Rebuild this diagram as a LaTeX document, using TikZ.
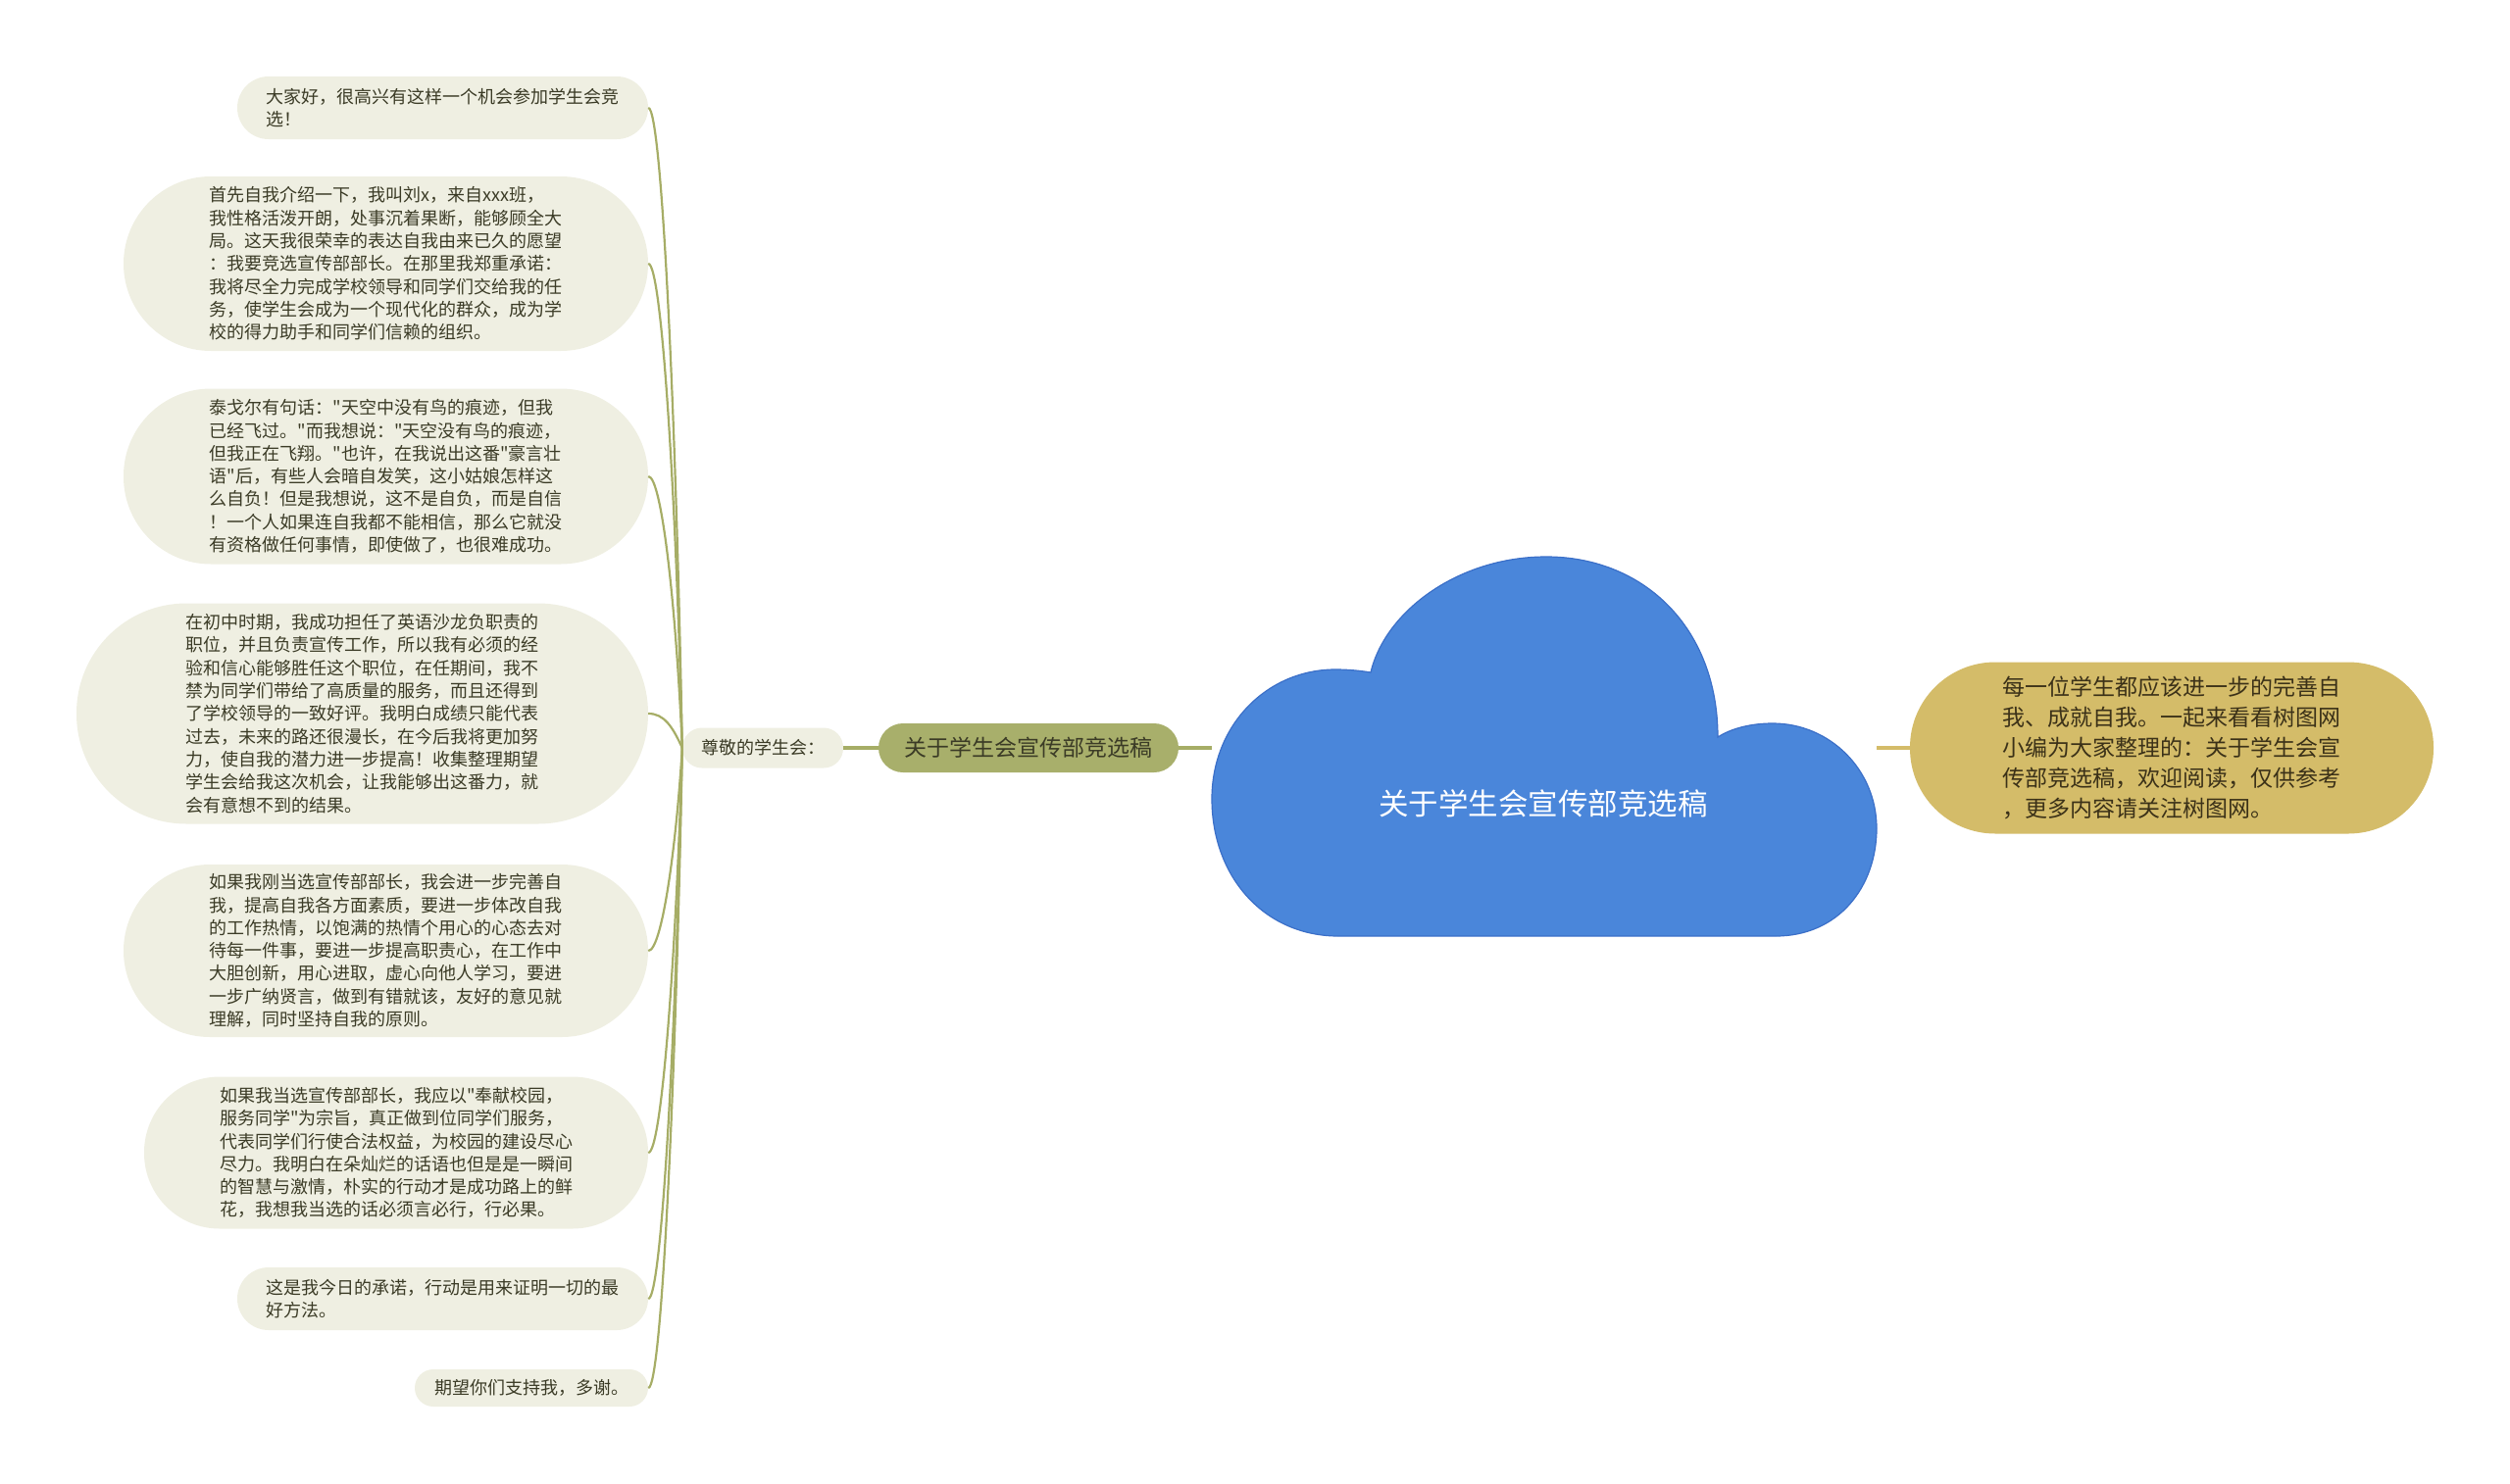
\documentclass[tikz,border=0pt]{standalone}
\usepackage{fontspec}
\setmainfont{Noto Sans CJK SC}[Ligatures=TeXOff]
\definecolor{leaffill}{HTML}{EFEFE2}
\definecolor{leaftext}{HTML}{3B3B26}
\definecolor{branchgreen}{HTML}{A6AD66}
\definecolor{titlefill}{HTML}{A8AF6B}
\definecolor{goldfill}{HTML}{D4BC69}
\definecolor{goldtext}{HTML}{3B3118}
\definecolor{cloudfill}{HTML}{4A86DA}
\definecolor{cloudline}{HTML}{3B6FC8}

\begin{document}
\begin{tikzpicture}[x=1pt,y=1pt,
    leaf/.style={fill=leaffill,text=leaftext,align=left,font=\fontsize{18}{23.3}\selectfont},
    twig/.style={draw=branchgreen,line width=2.2pt},
    stem/.style={line width=3.5pt}]
            \tikzstyle{every node}+=[inner sep=0pt]
            \useasboundingbox (0,0) rectangle (2560,-1513);
            \node [leaf,minimum width=419pt,minimum height=64pt,rounded corners=32pt] (greet) at (451.5,-110) {大家好，很高兴有这样一个机会参加学生会竞\\选！};
            \node [leaf,minimum width=535pt,minimum height=178pt,rounded corners=89pt] (intro) at (393.5,-269) {首先自我介绍一下，我叫刘x，来自xxx班，\\我性格活泼开朗，处事沉着果断，能够顾全大\\局。这天我很荣幸的表达自我由来已久的愿望\\：我要竞选宣传部部长。在那里我郑重承诺：\\我将尽全力完成学校领导和同学们交给我的任\\务，使学生会成为一个现代化的群众，成为学\\校的得力助手和同学们信赖的组织。};
            \node [leaf,minimum width=535pt,minimum height=179pt,rounded corners=89pt] (quote) at (393.5,-486) {泰戈尔有句话："天空中没有鸟的痕迹，但我\\已经飞过。"而我想说："天空没有鸟的痕迹，\\但我正在飞翔。"也许，在我说出这番"豪言壮\\语"后，有些人会暗自发笑，这小姑娘怎样这\\么自负！但是我想说，这不是自负，而是自信\\！一个人如果连自我都不能相信，那么它就没\\有资格做任何事情，即使做了，也很难成功。};
            \node [leaf,minimum width=583pt,minimum height=225pt,rounded corners=112pt] (career) at (369.5,-728) {在初中时期，我成功担任了英语沙龙负职责的\\职位，并且负责宣传工作，所以我有必须的经\\验和信心能够胜任这个职位，在任期间，我不\\禁为同学们带给了高质量的服务，而且还得到\\了学校领导的一致好评。我明白成绩只能代表\\过去，未来的路还很漫长，在今后我将更加努\\力，使自我的潜力进一步提高！收集整理期望\\学生会给我这次机会，让我能够出这番力，就\\会有意想不到的结果。};
            \node [leaf,minimum width=535pt,minimum height=176pt,rounded corners=88pt] (plan) at (393.5,-970) {如果我刚当选宣传部部长，我会进一步完善自\\我，提高自我各方面素质，要进一步体改自我\\的工作热情，以饱满的热情个用心的心态去对\\待每一件事，要进一步提高职责心，在工作中\\大胆创新，用心进取，虚心向他人学习，要进\\一步广纳贤言，做到有错就该，友好的意见就\\理解，同时坚持自我的原则。};
            \node [leaf,minimum width=514pt,minimum height=155pt,rounded corners=77pt] (serve) at (404,-1176) {如果我当选宣传部部长，我应以"奉献校园，\\服务同学"为宗旨，真正做到位同学们服务，\\代表同学们行使合法权益，为校园的建设尽心\\尽力。我明白在朵灿烂的话语也但是是一瞬间\\的智慧与激情，朴实的行动才是成功路上的鲜\\花，我想我当选的话必须言必行，行必果。};
            \node [leaf,minimum width=419pt,minimum height=64pt,rounded corners=32pt] (promise) at (451.5,-1325) {这是我今日的承诺，行动是用来证明一切的最\\好方法。};
            \node [leaf,minimum width=238pt,minimum height=38pt,rounded corners=19pt] (thanks) at (542,-1416) {期望你们支持我，多谢。};
            \node [leaf,minimum width=164pt,minimum height=41pt,rounded corners=20pt] (salute) at (778,-763) {尊敬的学生会：};
            \node [fill=titlefill,text=leaftext,minimum width=306pt,minimum height=50pt,rounded corners=25pt,font=\fontsize{23}{28}\selectfont] (title) at (1049,-763) {关于学生会宣传部竞选稿};
            \node [fill=goldfill,text=goldtext,align=left,minimum width=534pt,minimum height=175pt,rounded corners=87pt,font=\fontsize{23}{31}\selectfont] (summary) at (2215,-763) {每一位学生都应该进一步的完善自\\我、成就自我。一起来看看树图网\\小编为大家整理的：关于学生会宣\\传部竞选稿，欢迎阅读，仅供参考\\，更多内容请关注树图网。};
            \draw [twig] (salute.west) .. controls +(-6,330) and +(14,0) .. (greet.east);
            \draw [twig] (salute.west) .. controls +(-6,250) and +(14,0) .. (intro.east);
            \draw [twig] (salute.west) .. controls +(-6,140) and +(14,0) .. (quote.east);
            \draw [twig] (salute.west) .. controls +(-10,22) and +(16,0) .. (career.east);
            \draw [twig] (salute.west) .. controls +(-6,-100) and +(14,0) .. (plan.east);
            \draw [twig] (salute.west) .. controls +(-6,-205) and +(14,0) .. (serve.east);
            \draw [twig] (salute.west) .. controls +(-6,-280) and +(14,0) .. (promise.east);
            \draw [twig] (salute.west) .. controls +(-6,-325) and +(14,0) .. (thanks.east);
            \coordinate (rootw) at (1236,-763);
            \coordinate (roote) at (1914,-763);
            \draw [stem,branchgreen] (salute.east) -- (title.west);
            \draw [stem,branchgreen] (title.east) -- (rootw);
            \draw [stem,goldfill] (roote) -- (summary.west);
            \fill [cloudfill,draw=cloudline,line width=1.2pt] (1365,-955) -- (1811,-955)
                .. controls (1875,-955) and (1914,-905) .. (1914,-845)
                .. controls (1914,-785) and (1866,-738) .. (1808,-738)
                .. controls (1786,-738) and (1766,-743) .. (1752,-752)
                .. controls (1752,-640) and (1676,-568) .. (1577,-568)
                .. controls (1488,-568) and (1413,-623) .. (1398,-686)
                .. controls (1386,-684) and (1374,-683) .. (1362,-683)
                .. controls (1292,-683) and (1236,-740) .. (1236,-815)
                .. controls (1236,-895) and (1290,-955) .. (1365,-955) -- cycle;
            \node [text=white,font=\fontsize{30.5}{36}\selectfont] (root) at (1574,-820) {关于学生会宣传部竞选稿};
        \end{tikzpicture}
\end{document}
